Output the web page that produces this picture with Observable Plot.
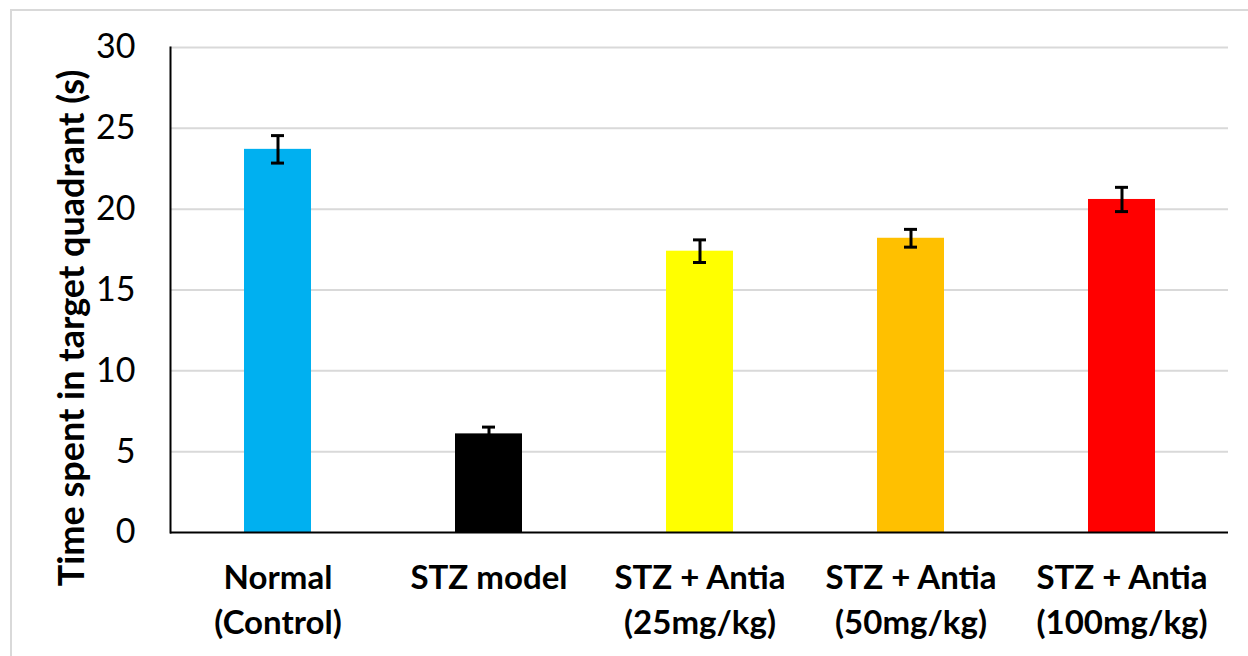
<!DOCTYPE html>
<html>
<head>
<meta charset="utf-8">
<script src="https://cdn.jsdelivr.net/npm/d3@7"></script>
<script src="https://cdn.jsdelivr.net/npm/@observablehq/plot@0.6"></script>
<style>
  html, body { margin: 0; padding: 0; background: #fff; overflow: hidden; }
  #wrap { position: relative; width: 1248px; height: 656px; }
  #border { position: absolute; left: 10px; top: 9px; width: 1240px; height: 700px; border: 2px solid #d9d9d9; box-sizing: border-box; }
  #chart { position: absolute; left: 0; top: 0; }
</style>
</head>
<body>
<div id="wrap"><div id="border"></div><div id="chart"></div></div>
<script>
const categories = ["Normal\n(Control)", "STZ model", "STZ + Antia\n(25mg/kg)", "STZ + Antia\n(50mg/kg)", "STZ + Antia\n(100mg/kg)"];
const means = [23.7, 6.1, 17.4, 18.2, 20.6];
const errors = [0.85, 0.42, 0.7, 0.55, 0.75];
const colors = ["#00B0F0", "#000000", "#FFFF00", "#FFC000", "#FF0000"];
const yTicks = [0, 5, 10, 15, 20, 25, 30];
const yLabel = "Time spent in target quadrant (s)";

const data = categories.map((c, i) => ({cat: c, mean: means[i], err: errors[i], color: colors[i]}));

const chart = Plot.plot({
  width: 1248,
  height: 656,
  marginLeft: 170,
  marginRight: 20,
  marginTop: 47,
  marginBottom: 124,
  style: {fontFamily: "Lato, sans-serif", background: "transparent", color: "#000"},
  x: {domain: categories, paddingInner: 0.683, paddingOuter: 0.3415, label: null},
  y: {domain: [0, 30], ticks: yTicks, label: null},
  marks: [
    Plot.gridY(yTicks.filter(d => d > 0), {stroke: "#d9d9d9", strokeOpacity: 1, strokeWidth: 2}),
    Plot.barY(data, {x: "cat", y: "mean", fill: "color"}),
    Plot.ruleX(data, {x: "cat", y1: d => d.mean - d.err, y2: d => d.mean + d.err, stroke: "#000", strokeWidth: 3}),
    Plot.tickY(data, {x: "cat", y: d => d.mean + d.err, stroke: "#000", strokeWidth: 3, insetLeft: 27, insetRight: 27}),
    Plot.tickY(data, {x: "cat", y: d => d.mean - d.err, stroke: "#000", strokeWidth: 3, insetLeft: 27, insetRight: 27}),
    Plot.ruleY([0], {stroke: "#000", strokeWidth: 2}),
    Plot.frame({anchor: "left", stroke: "#000", strokeWidth: 2}),
    Plot.axisY({ticks: yTicks, tickSize: 0, tickPadding: 35, fontSize: 34, label: null}),
    Plot.axisX({tickSize: 0, tickPadding: 25, fontSize: 33, fontWeight: "bold", lineHeight: 1.36, label: null}),
    Plot.text([yLabel], {frameAnchor: "left", text: d => d, rotate: -90, dx: -98, dy: 38, textAnchor: "middle", fontSize: 36, fontWeight: "bold", fill: "#000"})
  ]
});
document.getElementById("chart").appendChild(chart);
</script>
</body>
</html>
